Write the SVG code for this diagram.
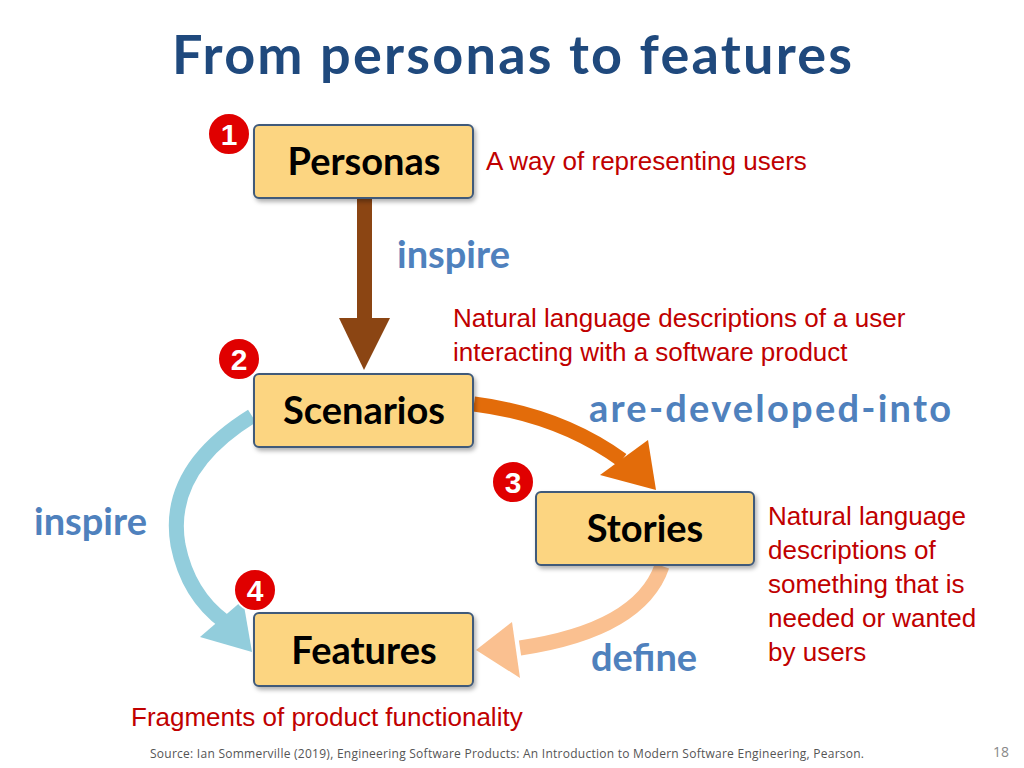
<svg xmlns="http://www.w3.org/2000/svg" width="1024" height="768" viewBox="0 0 1024 768">
<defs>
<style>
.box{fill:#FCD581;stroke:#3F5A7A;stroke-width:2}
.nt{font-family:Lato,"Open Sans",sans-serif;font-weight:bold;font-size:38px;fill:#000;text-anchor:middle}
.lbl{font-family:Lato,"Open Sans",sans-serif;font-weight:bold;font-size:38px;fill:#4F81BD}
.red{font-family:"Liberation Sans",Arial,sans-serif;font-size:26px;fill:#C00000}
.badge circle{fill:#E00000;stroke:#fff;stroke-width:2}
.badge text{font-family:"Liberation Sans",Arial,sans-serif;font-weight:bold;font-size:30px;fill:#fff;text-anchor:middle}
</style>
<filter id="sh" x="-10%" y="-10%" width="130%" height="140%"><feDropShadow dx="2" dy="3" stdDeviation="2" flood-opacity="0.3"/></filter>
</defs>
<rect width="1024" height="768" fill="#fff"/>
<text x="512" y="74" text-anchor="middle" font-family="Lato,'Open Sans',sans-serif" font-weight="bold" font-size="54" fill="#1F497D" textLength="680">From personas to features</text>
<g id="connectors">
<rect x="357" y="198" width="15" height="124" fill="#8B4513"/>
<polygon points="339,318 390,318 364,370" fill="#8B4513"/>
<path d="M474,404 Q560,415 622,460" fill="none" stroke="#E36C0A" stroke-width="15"/>
<polygon points="600,475 648,440 656,490" fill="#E36C0A"/>
<path d="M252,416 Q165,470 178,545 Q188,595 225,622" fill="none" stroke="#92CDDC" stroke-width="15"/>
<polygon points="200,637 243,600 252,652" fill="#92CDDC"/>
<path d="M662,566 Q640,630 520,648" fill="none" stroke="#FAC090" stroke-width="15"/>
<polygon points="512,622 476,650 520,678" fill="#FAC090"/>
</g>
<g id="personas"><rect class="box" x="254" y="125" width="219" height="73" rx="5" filter="url(#sh)"/><text class="nt" x="364" y="175">Personas</text></g>
<g id="scenarios"><rect class="box" x="254" y="374" width="219" height="73" rx="5" filter="url(#sh)"/><text class="nt" x="364" y="424">Scenarios</text></g>
<g id="stories"><rect class="box" x="536" y="492" width="218" height="73" rx="5" filter="url(#sh)"/><text class="nt" x="645" y="542">Stories</text></g>
<g id="features"><rect class="box" x="254" y="613" width="219" height="73" rx="5" filter="url(#sh)"/><text class="nt" x="364" y="664">Features</text></g>
<g class="badge"><circle cx="229" cy="134" r="21"/><text x="229" y="145">1</text></g>
<g class="badge"><circle cx="239" cy="359" r="21"/><text x="239" y="370">2</text></g>
<g class="badge"><circle cx="513" cy="482" r="21"/><text x="513" y="493">3</text></g>
<g class="badge"><circle cx="255" cy="590" r="21"/><text x="255" y="601">4</text></g>
<text class="lbl" x="397" y="268">inspire</text>
<text class="lbl" x="589" y="422" textLength="362">are-developed-into</text>
<text class="lbl" x="34" y="535">inspire</text>
<text class="lbl" x="591" y="671">define</text>
<text class="red" x="486" y="170">A way of representing users</text>
<text class="red" x="453" y="327">Natural language descriptions of a user</text>
<text class="red" x="453" y="361">interacting with a software product</text>
<text class="red" x="768" y="525">Natural language</text>
<text class="red" x="768" y="559">descriptions of</text>
<text class="red" x="768" y="593">something that is</text>
<text class="red" x="768" y="627">needed or wanted</text>
<text class="red" x="768" y="661">by users</text>
<text class="red" x="131" y="726">Fragments of product functionality</text>
<text x="150" y="758" font-family="'Open Sans',sans-serif" font-size="12" fill="#555" textLength="714">Source: Ian Sommerville (2019), Engineering Software Products:  An Introduction to Modern Software Engineering, Pearson.</text>
<text x="1001" y="757" text-anchor="middle" font-family="'Open Sans',sans-serif" font-size="14" fill="#888">18</text>
</svg>
